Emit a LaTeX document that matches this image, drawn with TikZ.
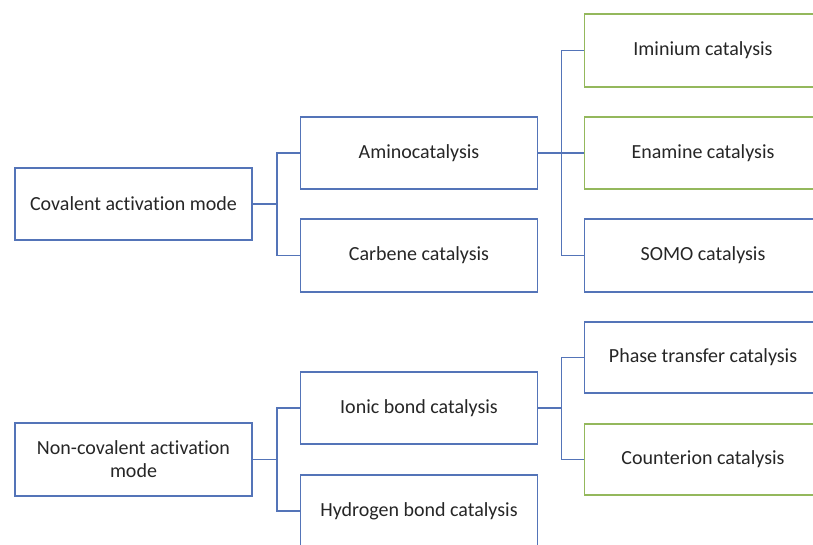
\documentclass[tikz,border=0pt]{standalone}
\usepackage{fontspec}
\setmainfont[Ligatures={NoCommon,NoRare}]{Carlito}
\definecolor{boxblue}{HTML}{5474B8}
\definecolor{boxgreen}{HTML}{94B85C}
\definecolor{txt}{HTML}{262626}
\begin{document}
\begin{tikzpicture}[x=1pt,y=-1pt,
  bx/.style={draw=boxblue,line width=1.6pt,fill=white,minimum width=237pt,minimum height=72pt,
    inner sep=0pt,text=txt,font=\fontsize{20}{23}\selectfont,align=center},
  gbx/.style={bx,draw=boxgreen},
  conn/.style={draw=boxblue,line width=1.6pt}]
\useasboundingbox (0,0) rectangle (813,545);
\fill[white] (0,0) rectangle (813,545);
% left column
\node[bx] (cov) at (133.5,204) {Covalent activation mode};
\node[bx,minimum height=73pt] (noncov) at (133.5,459.5) {Non-covalent activation\\mode};
% middle column
\node[bx] (amino) at (419,153) {Aminocatalysis};
\node[bx,minimum height=73pt] (carb) at (419,255.5) {Carbene catalysis};
\node[bx] (ionic) at (419,408) {Ionic bond catalysis};
\node[bx] (hyd) at (419,511) {Hydrogen bond catalysis};
% right column
\node[gbx,minimum height=73pt] (imin) at (703,50.5) {Iminium catalysis};
\node[gbx] (enam) at (703,153) {Enamine catalysis};
\node[bx,minimum height=73pt] (somo) at (703,255.5) {SOMO catalysis};
\node[bx,minimum height=71pt] (phase) at (703,357.5) {Phase transfer catalysis};
\node[gbx,minimum height=71pt] (count) at (703,459.5) {Counterion catalysis};
% connectors
\draw[conn] (cov.east) -- ++(24,0) coordinate (j1);
\draw[conn] (j1) |- (amino.west);
\draw[conn] (j1) |- (carb.west);
\draw[conn] (noncov.east) -- ++(24,0) coordinate (j2);
\draw[conn] (j2) |- (ionic.west);
\draw[conn] (j2) |- (hyd.west);
\draw[conn] (amino.east) -- ++(23,0) coordinate (j3);
\draw[conn] (j3) |- (imin.west);
\draw[conn] (j3) -- (enam.west);
\draw[conn] (j3) |- (somo.west);
\draw[conn] (ionic.east) -- ++(23,0) coordinate (j4);
\draw[conn] (j4) |- (phase.west);
\draw[conn] (j4) |- (count.west);
\end{tikzpicture}
\end{document}
